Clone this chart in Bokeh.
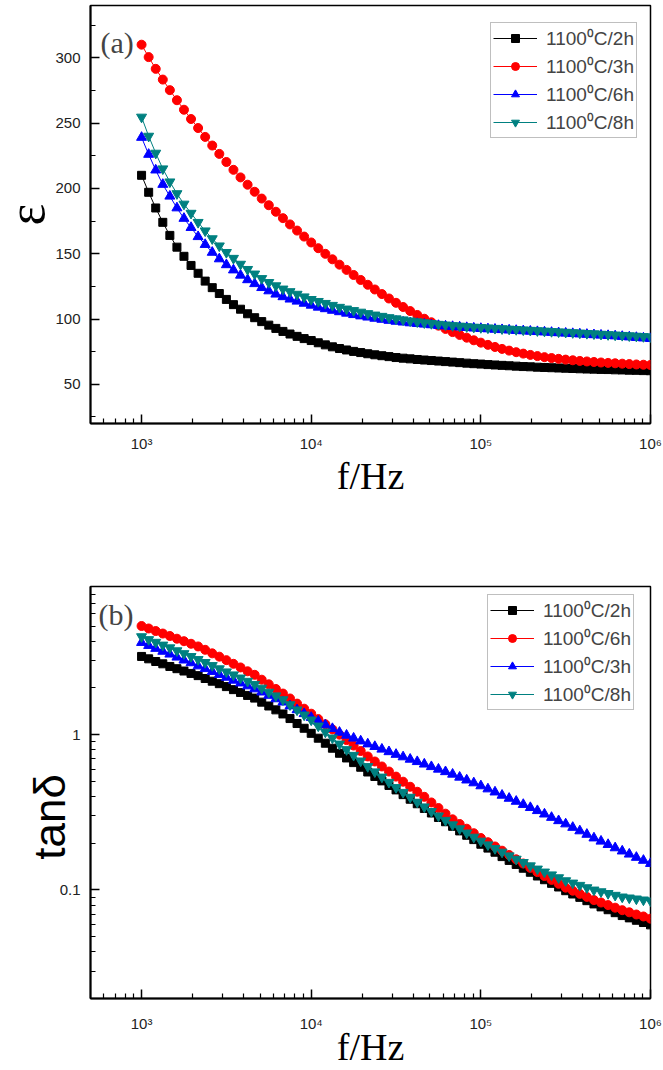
from bokeh.plotting import figure
from bokeh.models import Range1d, FixedTicker, SingleIntervalTicker, Label
from bokeh.embed import file_html
from bokeh.resources import INLINE

# ---------------- data ----------------
freq_hz = [
    1000, 1101, 1212, 1334, 1468, 1616, 1778, 1957, 2154, 2371,
    2610, 2873, 3162, 3481, 3831, 4217, 4642, 5109, 5623, 6190,
    6813, 7499, 8254, 9085, 10000, 11007, 12115, 13335, 14678, 16156,
    17783, 19573, 21544, 23714, 26102, 28730, 31623, 34807, 38312, 42170,
    46416, 51090, 56234, 61897, 68129, 74989, 82540, 90852, 100000, 110070,
    121150, 133350, 146780, 161560, 177830, 195730, 215440, 237140, 261020, 287300,
    316230, 348070, 383120, 421700, 464160, 510900, 562340, 618970, 681290, 749890,
    825400, 908520, 1000000]

# panel (a): permittivity
eps_2h = [
    210, 197, 185, 174, 164, 155, 148, 141, 135, 129,
    124, 119.5, 115, 111, 107.5, 104, 101, 98, 95.3, 92.8,
    90.5, 88.5, 86.7, 85, 83.5, 81.8, 80.2, 78.7, 77.4, 76.3,
    75.2, 74.3, 73.4, 72.6, 71.9, 71.2, 70.5, 70, 69.5, 69,
    68.6, 68.2, 67.8, 67.4, 67, 66.6, 66.2, 65.8, 65.5, 65.1,
    64.8, 64.5, 64.2, 63.9, 63.6, 63.4, 63.1, 62.9, 62.7, 62.5,
    62.3, 62.1, 61.9, 61.7, 61.6, 61.4, 61.3, 61.1, 61.0, 60.8,
    60.7, 60.5, 60.4]
eps_3h = [
    310, 300.5, 291.5, 283.3, 275.2, 267.5, 260.2, 253.1, 246.2, 239.4,
    232.8, 226.4, 220.2, 214.2, 208.4, 202.8, 197.4, 192.2, 187.1, 182.1,
    177.2, 172.4, 167.7, 163.1, 158.6, 154.2, 149.9, 145.7, 141.6, 137.6,
    133.7, 129.9, 126.2, 122.6, 119.1, 115.7, 112.4, 109.2, 106.1, 103.1,
    100.2, 97.5, 94.9, 92.4, 90, 87.8, 85.7, 83.7, 81.9, 80.2,
    78.6, 77.1, 75.8, 74.6, 73.5, 72.5, 71.6, 70.8, 70.1, 69.5,
    68.9, 68.4, 67.9, 67.5, 67.1, 66.7, 66.4, 66.1, 65.8, 65.5,
    65.2, 65, 64.8]
eps_6h = [
    239, 226, 214, 203, 194, 185, 177, 170, 163, 157,
    151, 146, 141.5, 137.5, 133.5, 130, 127, 124, 121.5, 119,
    117, 115.2, 113.6, 112, 110.5, 109, 107.8, 106.6, 105.5, 104.4,
    103.3, 102.3, 101.4, 100.5, 99.7, 98.9, 98.2, 97.6, 97, 96.5,
    96, 95.5, 95, 94.6, 94.2, 93.8, 93.4, 93, 92.7, 92.4,
    92.1, 91.8, 91.5, 91.2, 90.9, 90.6, 90.3, 90, 89.7, 89.4,
    89.1, 88.8, 88.5, 88.2, 87.9, 87.6, 87.3, 87, 86.6, 86.2,
    85.8, 85.4, 85]
eps_8h = [
    254.6, 240, 227, 215, 205, 196, 188, 181, 174, 167.5,
    161.5, 156, 151, 146.5, 142, 138, 134.5, 131, 128, 125.5,
    123, 121, 119, 117, 115, 113.5, 112, 110.5, 109, 107.7,
    106.5, 105.3, 104.2, 103.1, 102.1, 101.1, 100.2, 99.4, 98.6, 97.9,
    97.2, 96.6, 96, 95.5, 95, 94.6, 94.2, 93.8, 93.5, 93.2,
    92.9, 92.6, 92.3, 92, 91.7, 91.4, 91.1, 90.8, 90.5, 90.2,
    89.9, 89.6, 89.3, 89, 88.7, 88.4, 88.1, 87.8, 87.5, 87.2,
    86.9, 86.6, 86.3]

# panel (b): loss tangent
tan_2h = [
    3.19, 3.08, 2.96, 2.86, 2.75, 2.66, 2.57, 2.48, 2.40, 2.30,
    2.21, 2.13, 2.04, 1.95, 1.87, 1.79, 1.72, 1.62, 1.53, 1.445,
    1.36, 1.27, 1.18, 1.10, 1.02, 0.949, 0.881, 0.818, 0.759, 0.708,
    0.661, 0.617, 0.575, 0.538, 0.504, 0.471, 0.441, 0.411, 0.384, 0.359,
    0.335, 0.313, 0.293, 0.275, 0.257, 0.240, 0.225, 0.211, 0.197, 0.186,
    0.175, 0.164, 0.155, 0.146, 0.138, 0.130, 0.123, 0.1164, 0.1103, 0.1045,
    0.0989, 0.0942, 0.0896, 0.0853, 0.0813, 0.0778, 0.0746, 0.0714, 0.0684, 0.0661,
    0.0638, 0.0617, 0.0596]
tan_6h = [
    5.01, 4.83, 4.65, 4.48, 4.32, 4.15, 4.00, 3.85, 3.70, 3.52,
    3.34, 3.18, 3.02, 2.86, 2.71, 2.56, 2.43, 2.26, 2.11, 1.97,
    1.84, 1.71, 1.585, 1.47, 1.365, 1.26, 1.168, 1.081, 1.000, 0.923,
    0.851, 0.785, 0.724, 0.672, 0.624, 0.579, 0.537, 0.498, 0.462, 0.429,
    0.398, 0.366, 0.337, 0.310, 0.285, 0.266, 0.248, 0.232, 0.216, 0.203,
    0.1905, 0.179, 0.168, 0.1575, 0.148, 0.1388, 0.1303, 0.1230, 0.1161, 0.1096,
    0.1035, 0.0989, 0.0944, 0.0902, 0.0861, 0.0830, 0.0799, 0.0769, 0.0741, 0.0718,
    0.0695, 0.0675, 0.0653]
tan_3h = [
    3.92, 3.75, 3.59, 3.44, 3.30, 3.155, 3.02, 2.90, 2.77, 2.66,
    2.55, 2.44, 2.34, 2.24, 2.15, 2.06, 1.97, 1.88, 1.79, 1.70,
    1.62, 1.53, 1.445, 1.365, 1.29, 1.22, 1.155, 1.094, 1.035, 0.991,
    0.949, 0.910, 0.871, 0.838, 0.806, 0.776, 0.746, 0.719, 0.694, 0.670,
    0.646, 0.622, 0.599, 0.577, 0.556, 0.532, 0.510, 0.489, 0.468, 0.447,
    0.427, 0.407, 0.389, 0.372, 0.355, 0.339, 0.324, 0.308, 0.293, 0.279,
    0.266, 0.2527, 0.240, 0.228, 0.216, 0.206, 0.196, 0.1866, 0.178, 0.170,
    0.162, 0.155, 0.148]
tan_8h = [
    4.28, 4.10, 3.94, 3.78, 3.63, 3.475, 3.33, 3.19, 3.05, 2.92,
    2.79, 2.66, 2.54, 2.43, 2.32, 2.21, 2.11, 1.995, 1.88, 1.78,
    1.68, 1.56, 1.445, 1.34, 1.245, 1.138, 1.041, 0.953, 0.871, 0.802,
    0.737, 0.678, 0.624, 0.577, 0.534, 0.494, 0.457, 0.4256, 0.396, 0.368,
    0.343, 0.3206, 0.300, 0.281, 0.263, 0.248, 0.233, 0.219, 0.2065, 0.1954,
    0.185, 0.1754, 0.166, 0.158, 0.1505, 0.1432, 0.1365, 0.1306, 0.1252, 0.120,
    0.1148, 0.1109, 0.1072, 0.1035, 0.100, 0.0975, 0.0950, 0.0925, 0.0902, 0.0889,
    0.0876, 0.0863, 0.0851]

x_major = [1e3, 1e4, 1e5, 1e6]
x_minor = [600, 700, 800, 900,
           2e3, 3e3, 4e3, 5e3, 6e3, 7e3, 8e3, 9e3,
           2e4, 3e4, 4e4, 5e4, 6e4, 7e4, 8e4, 9e4,
           2e5, 3e5, 4e5, 5e5, 6e5, 7e5, 8e5, 9e5]
x_labels = {1000: "10\u00b3", 10000: "10\u2074", 100000: "10\u2075", 1000000: "10\u2076"}
tan_major = [0.1, 1]
tan_minor = [0.03, 0.04, 0.05, 0.06, 0.07, 0.08, 0.09,
             0.2, 0.3, 0.4, 0.5, 0.6, 0.7, 0.8, 0.9,
             2, 3, 4, 5, 6, 7, 8]
tan_labels = {0.1: "0.1", 1: "1"}

legend_a = ["1100\u2070C/2h", "1100\u2070C/3h", "1100\u2070C/6h", "1100\u2070C/8h"]
legend_b = ["1100\u2070C/2h", "1100\u2070C/6h", "1100\u2070C/3h", "1100\u2070C/8h"]

BLACK, RED, BLUE, TEAL = "#000000", "#ff0000", "#0000ff", "#008080"
SANS = "Liberation Sans"
SERIF = "Liberation Serif"

LEFT_BORDER = 115
SHIFT = 25   # canvas starts left of the page so the frame sits at x=90


def base_fig(height, b_top, b_bottom, y_type, y_range):
    p = figure(width=LEFT_BORDER + 560 + 12, height=height,
               x_axis_type="log", y_axis_type=y_type,
               x_range=Range1d(500, 1e6), y_range=y_range,
               output_backend="svg", toolbar_location=None,
               min_border_left=LEFT_BORDER, min_border_right=12,
               min_border_top=b_top, min_border_bottom=b_bottom,
               background_fill_color="white", border_fill_color="white",
               margin=(0, 0, 0, -SHIFT))
    p.grid.visible = False
    p.outline_line_color = "black"
    p.outline_line_width = 1.5
    p.outline_line_alpha = 1.0
    for ax in p.axis:
        ax.axis_line_width = 2
        ax.major_tick_in = 9
        ax.major_tick_out = 0
        ax.minor_tick_in = 5
        ax.minor_tick_out = 0
        ax.major_tick_line_width = 1.5
        ax.minor_tick_line_width = 1.2
        ax.major_label_text_font = SANS
        ax.major_label_text_font_size = "15px"
        ax.major_label_text_color = "#222222"
        ax.axis_label_text_font_style = "normal"
        ax.axis_label_text_color = "black"
    p.xaxis.ticker = FixedTicker(ticks=x_major, minor_ticks=x_minor)
    p.xaxis.major_label_overrides = x_labels
    p.xaxis.axis_label = "f/Hz"
    p.xaxis.axis_label_text_font = SERIF
    p.xaxis.axis_label_text_font_size = "38px"
    p.yaxis.major_label_standoff = 10
    return p


def add_series(p, y, color, marker, size, label):
    p.line(freq_hz, y, line_color=color, line_width=1, legend_label=label)
    p.scatter(freq_hz, y, marker=marker, size=size, fill_color=color,
              line_color=color, legend_label=label)


def style_legend(p, loc):
    lg = p.legend[0]
    lg.location = loc
    lg.margin = 0
    lg.padding = 2
    lg.spacing = 2
    lg.glyph_width = 44
    lg.glyph_height = 20
    lg.label_height = 20
    lg.label_standoff = 9
    lg.label_text_font = SANS
    lg.label_text_font_size = "19px"
    lg.border_line_color = "#808080"
    lg.border_line_width = 1
    lg.background_fill_color = "white"
    lg.background_fill_alpha = 1.0


# ---------------- panel (a) ----------------
pa = base_fig(540, 5, 117, "linear", Range1d(20, 340))
pa.yaxis.ticker = SingleIntervalTicker(interval=50, num_minor_ticks=2)
pa.xaxis.major_label_standoff = 11
pa.xaxis.axis_label_standoff = 0
pa.yaxis.axis_label = "\u03b5"
pa.yaxis.axis_label_text_font = SERIF
pa.yaxis.axis_label_text_font_size = "52px"
pa.yaxis.axis_label_standoff = -3
add_series(pa, eps_2h, BLACK, "square", 8, legend_a[0])
add_series(pa, eps_3h, RED, "circle", 9, legend_a[1])
add_series(pa, eps_6h, BLUE, "triangle", 10, legend_a[2])
add_series(pa, eps_8h, TEAL, "inverted_triangle", 10, legend_a[3])
style_legend(pa, (400, 285))
pa.add_layout(Label(x=10, y=381, x_units="screen", y_units="screen", text="(a)",
                    text_font=SERIF, text_font_size="30px", text_baseline="alphabetic"))

# ---------------- panel (b) ----------------
pb = base_fig(530, 46, 66, "log", Range1d(0.02, 9))
pb.yaxis.ticker = FixedTicker(ticks=tan_major, minor_ticks=tan_minor)
pb.yaxis.major_label_overrides = tan_labels
pb.xaxis.major_label_standoff = 16
pb.xaxis.axis_label_standoff = -9
pb.yaxis.axis_label = "tan\u03b4\u00a0\u00a0\u00a0\u00a0"
pb.yaxis.axis_label_text_font = SANS
pb.yaxis.axis_label_text_font_size = "44px"
pb.yaxis.axis_label_standoff = -17
add_series(pb, tan_2h, BLACK, "square", 8, legend_b[0])
add_series(pb, tan_6h, RED, "circle", 9, legend_b[1])
add_series(pb, tan_3h, BLUE, "triangle", 10, legend_b[2])
add_series(pb, tan_8h, TEAL, "inverted_triangle", 10, legend_b[3])
style_legend(pb, (397, 288))
pb.add_layout(Label(x=8, y=384, x_units="screen", y_units="screen", text="(b)",
                    text_font=SERIF, text_font_size="30px", text_baseline="alphabetic"))

# two stacked roots (no column, so the wide canvases are not squeezed)
open("out.html", "w").write(file_html([pa, pb], INLINE))
